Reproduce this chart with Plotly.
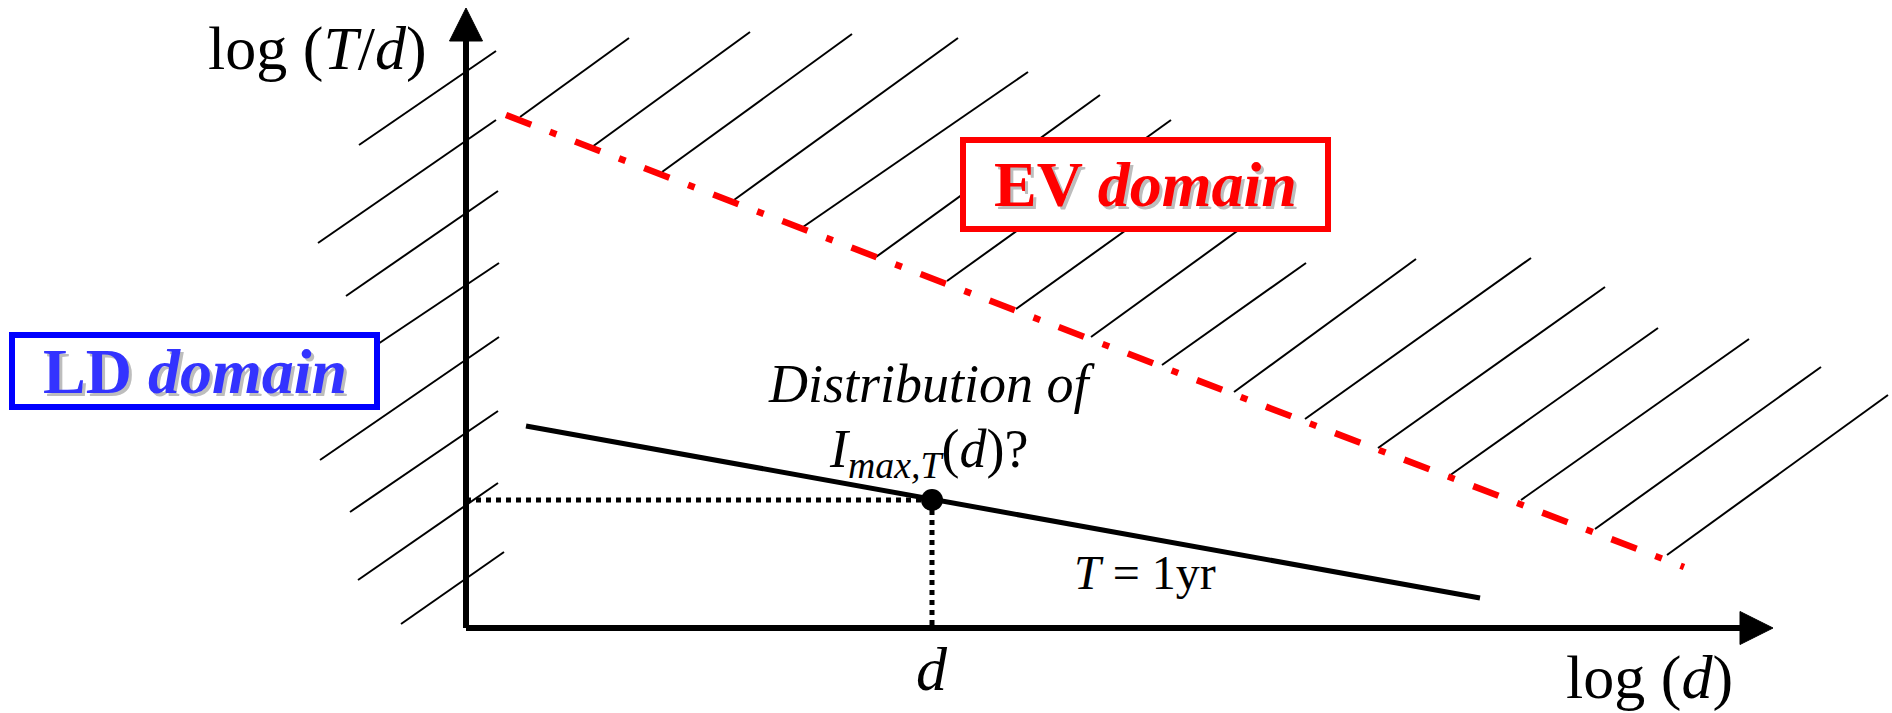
import plotly.graph_objects as go

# Schematic frame: origin at the crossing of the two axes, x = log(d), y = log(T/d)
X_MIN, X_MAX = -466, 1426
Y_MIN, Y_MAX = -85, 628

# Axis lines and arrowheads
axis_x_end = 1278
axis_y_end = 590
x_arrow_tip, x_arrow_base, x_arrow_half = 1307, 1274, 16.5
y_arrow_tip, y_arrow_base, y_arrow_half = 620, 587, 16.5

# Relation for T = 1yr
t1yr_x = [60, 1014]
t1yr_y = [202, 30]

# Selected distance d and its value on the T = 1yr line
d_x = 466
d_y = 128

# EV boundary (dash-dot)
ev_x = [40, 1218]
ev_y = [513, 61]

# Hatching on the LD side (crossing the vertical axis)
ld_x0 = [-107, -148, -120, -106, -146, -116, -108, -65]
ld_y0 = [483, 385, 332, 272, 168, 116, 48, 4]
ld_x1 = [30, 30, 32, 33, 33, 32, 32, 38]
ld_y1 = [577, 508, 437, 365, 291, 217, 145, 76]

# Hatching on the EV side (starting from the EV boundary)
ev_hx0 = [54, 126, 196, 268, 337, 410, 481, 550, 625, 696, 768, 839, 912, 983, 1055, 1129, 1201]
ev_hy0 = [511, 481, 456, 428, 401, 371, 347, 319, 291, 263, 236, 209, 180, 152, 128, 99, 73]
ev_hx1 = [163, 284, 386, 492, 562, 634, 705, 734, 814, 840, 950, 1065, 1139, 1192, 1283, 1355, 1422]
ev_hy1 = [590, 596, 594, 590, 556, 533, 508, 451, 428, 365, 369, 370, 341, 300, 289, 261, 233]

# Domain boxes (x0, x1, y0, y1)
ev_box = [497, 862, 399, 488]
ld_box = [-454, -89, 221, 293]

SERIF = "Liberation Serif"


def segments(x0, y0, x1, y1):
    xs, ys = [], []
    for a, b, c, d in zip(x0, y0, x1, y1):
        xs += [a, c, None]
        ys += [b, d, None]
    return xs, ys


fig = go.Figure()

hx, hy = segments(ld_x0 + ev_hx0, ld_y0 + ev_hy0, ld_x1 + ev_hx1, ld_y1 + ev_hy1)
fig.add_trace(go.Scatter(x=hx, y=hy, mode="lines",
                         line=dict(color="black", width=2), hoverinfo="skip"))

# EV boundary
fig.add_trace(go.Scatter(x=ev_x, y=ev_y, mode="lines",
                         line=dict(color="#ff0000", width=6.5, dash="27px,20px,7px,20px"),
                         hoverinfo="skip"))

# Dotted guides to the axes
fig.add_trace(go.Scatter(x=[0, d_x, None, d_x, d_x], y=[d_y, d_y, None, d_y, 0], mode="lines",
                         line=dict(color="black", width=5, dash="5px,5px"), hoverinfo="skip"))

# T = 1yr line
fig.add_trace(go.Scatter(x=t1yr_x, y=t1yr_y, mode="lines",
                         line=dict(color="black", width=5), hoverinfo="skip"))

# Axes
fig.add_trace(go.Scatter(x=[0, 0, None, 0, axis_x_end], y=[axis_y_end, 0, None, 0, 0],
                         mode="lines", line=dict(color="black", width=6), hoverinfo="skip"))
fig.add_trace(go.Scatter(x=[0, -y_arrow_half, y_arrow_half, 0],
                         y=[y_arrow_tip, y_arrow_base, y_arrow_base, y_arrow_tip],
                         mode="lines", fill="toself", fillcolor="black",
                         line=dict(color="black", width=1), hoverinfo="skip"))
fig.add_trace(go.Scatter(x=[x_arrow_tip, x_arrow_base, x_arrow_base, x_arrow_tip],
                         y=[0, x_arrow_half, -x_arrow_half, 0],
                         mode="lines", fill="toself", fillcolor="black",
                         line=dict(color="black", width=1), hoverinfo="skip"))

# Point on the T = 1yr line
fig.add_trace(go.Scatter(x=[d_x], y=[d_y], mode="markers",
                         marker=dict(color="black", size=22), hoverinfo="skip"))

# Domain boxes (white fill hides the hatching behind them)
for box, col in ((ev_box, "#ff0000"), (ld_box, "#0000ff")):
    fig.add_shape(type="rect", xref="x", yref="y", x0=box[0], x1=box[1], y0=box[2], y1=box[3],
                  line=dict(color=col, width=6), fillcolor="white", layer="above")


def label(text, x, y, size, xanchor="center", color="black", shadow=None):
    font = dict(family=SERIF, size=size, color=color)
    if shadow:
        font["shadow"] = shadow
    fig.add_annotation(x=x, y=y, xref="x", yref="y", text=text, showarrow=False,
                       xanchor=xanchor, yanchor="middle", font=font)


label("log (<i>T</i>/<i>d</i>)", -37, 580, 62, xanchor="right")
label("log (<i>d</i>)", 1269, -49, 62, xanchor="right")
label("<i>d</i>", d_x, -41, 62)
label("<i>Distribution of</i>", d_x, 244, 54)
label("<i>I</i><sub><i>max,T</i></sub>(<i>d</i>)?", 462, 176, 54)
label("<i>T</i> = 1yr", 679, 56, 48)
label("<b>EV <i>domain</i></b>", (ev_box[0] + ev_box[1]) / 2, (ev_box[2] + ev_box[3]) / 2, 64,
      color="#ff0000", shadow="3px 3px 0px #bdbdbd")
label("<b>LD <i>domain</i></b>", (ld_box[0] + ld_box[1]) / 2, (ld_box[2] + ld_box[3]) / 2, 64,
      color="#3333ff", shadow="3px 3px 0px #bdbdbd")

fig.update_xaxes(range=[X_MIN, X_MAX], visible=False, showgrid=False, zeroline=False)
fig.update_yaxes(range=[Y_MIN, Y_MAX], visible=False, showgrid=False, zeroline=False)
fig.update_layout(width=1892, height=713, autosize=False,
                  margin=dict(l=0, r=0, t=0, b=0, pad=0),
                  plot_bgcolor="white", paper_bgcolor="white", showlegend=False)

fig.write_html("out.html")
